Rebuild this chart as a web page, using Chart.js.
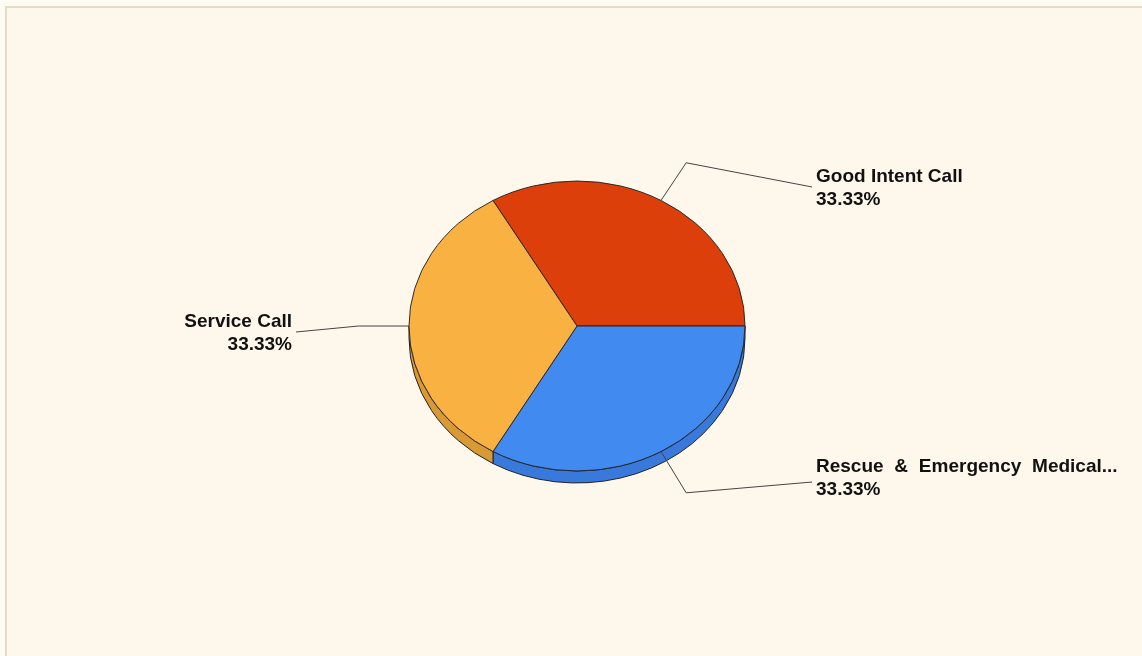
<!DOCTYPE html>
<html>
<head>
<meta charset="utf-8">
<script src="https://cdn.jsdelivr.net/npm/chart.js@4"></script>
<style>
  html, body { margin: 0; padding: 0; background: #fefbf4; }
  #box {
    position: absolute; left: 5px; top: 6px; width: 1150px; height: 660px;
    background: #fdf7ec; border-left: 2px solid #e4dcc6; border-top: 2px solid #e4dcc6;
  }
  #wrap { position: absolute; left: 0; top: 0; width: 1142px; height: 656px; }
</style>
</head>
<body>
<div id="box"></div>
<div id="wrap"><canvas id="pieChart"></canvas></div>
<script>
// categories and values
var categories = ['Good Intent Call', 'Rescue & Emergency Medical...', 'Service Call'];
var values = [1, 1, 1];
var percentLabels = ['33.33%', '33.33%', '33.33%'];
var sliceColors = ['#dc3f0a', '#418aef', '#f9b142'];
var sideColors = ['#b5330a', '#3a79dc', '#d99a35'];

var TILT = 0.863;   // vertical squash of the pie
var DEPTH = 12;     // thickness of the pie

function tiltedY(el, a) {
  return el.y + Math.sin(a) * el.outerRadius * TILT;
}

var pie3d = {
  id: 'pie3d',
  beforeDatasetsDraw: function (chart) {
    var ctx = chart.ctx;
    var arcs = chart.getDatasetMeta(0).data;
    // side walls, only the front half is visible
    arcs.forEach(function (el, i) {
      var a0 = Math.max(el.startAngle, 0);
      var a1 = Math.min(el.endAngle, Math.PI);
      if (el.startAngle > Math.PI && el.endAngle > 2 * Math.PI) {
        a0 = 2 * Math.PI; a1 = Math.min(el.endAngle, 3 * Math.PI);
      }
      if (a1 <= a0) return;
      var r = el.outerRadius;
      ctx.save();
      ctx.beginPath();
      ctx.ellipse(el.x, el.y, r, r * TILT, 0, a0, a1, false);
      ctx.ellipse(el.x, el.y + DEPTH, r, r * TILT, 0, a1, a0, true);
      ctx.closePath();
      ctx.fillStyle = sideColors[i];
      ctx.fill();
      ctx.lineWidth = 1;
      ctx.strokeStyle = '#222';
      ctx.stroke();
      ctx.restore();
    });
    var el0 = arcs[0];
    ctx.save();
    ctx.translate(el0.x, el0.y);
    ctx.scale(1, TILT);
    ctx.translate(-el0.x, -el0.y);
  },
  afterDatasetsDraw: function (chart) {
    var ctx = chart.ctx;
    ctx.restore();
    var arcs = chart.getDatasetMeta(0).data;
    ctx.save();
    ctx.font = 'bold 19px "Liberation Sans", Arial, sans-serif';
    ctx.fillStyle = '#111';
    ctx.strokeStyle = '#444';
    ctx.lineWidth = 1;
    arcs.forEach(function (el, i) {
      var mid = (el.startAngle + el.endAngle) / 2;
      var r = el.outerRadius;
      var c = Math.cos(mid), s = Math.sin(mid);
      var sx = el.x + c * r, sy = tiltedY(el, mid);
      var ex = el.x + c * r * 1.3, ey = el.y + s * r * TILT * 1.3 + (s > 0.1 ? DEPTH * 0.3 : 0);
      var right = c >= 0;
      var tx = right ? el.x + r + 67 : el.x - r - 113;
      var tcy = el.y + 7 + s * r * TILT * 1.155;
      var ly = tcy + (s > 0.1 ? 4 : -1);
      ctx.beginPath();
      ctx.moveTo(sx, sy);
      ctx.lineTo(ex, ey);
      ctx.lineTo(tx, ly);
      ctx.stroke();
      ctx.textAlign = right ? 'left' : 'right';
      ctx.textBaseline = 'middle';
      var lx = right ? tx + 4 : tx - 4;
      if (categories[i].indexOf('&') >= 0) ctx.wordSpacing = '5.5px';
      ctx.fillText(categories[i], lx, tcy - 11);
      ctx.wordSpacing = '0px';
      ctx.fillText(percentLabels[i], lx, tcy + 11.5);
    });
    ctx.restore();
  }
};

var ctx = document.getElementById('pieChart').getContext('2d');
var pieChart = new Chart(ctx, {
  type: 'pie',
  data: {
    labels: categories,
    datasets: [{
      data: values,
      backgroundColor: sliceColors,
      borderColor: '#222',
      borderWidth: 1
    }]
  },
  options: {
    responsive: true,
    maintainAspectRatio: false,
    animation: false,
    rotation: -30,
    radius: 168,
    layout: { padding: { left: 100, right: 88, top: 100, bottom: 104 } },
    plugins: {
      legend: { display: false },
      tooltip: { enabled: false }
    }
  },
  plugins: [pie3d]
});
</script>
</body>
</html>
